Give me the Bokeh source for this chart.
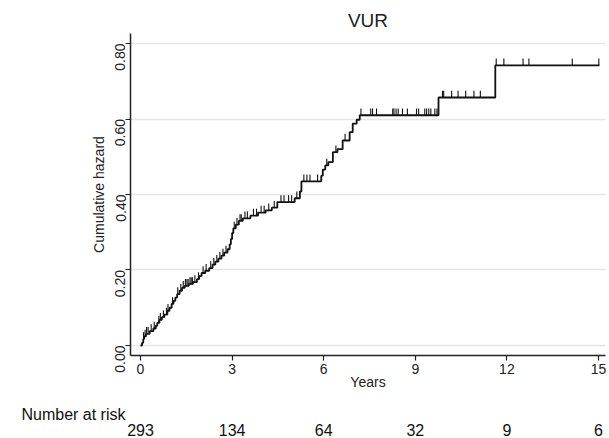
import numpy as np
from bokeh.plotting import figure
from bokeh.layouts import column
from bokeh.models import Range1d, FixedTicker, NumeralTickFormatter, LinearAxis
from bokeh.embed import file_html
from bokeh.resources import INLINE

# ---- data ----
event_years = [0.05, 0.09, 0.12, 0.18, 0.30, 0.42, 0.50, 0.55, 0.62, 0.70,
               0.78, 0.88, 0.95, 1.02, 1.08, 1.14, 1.20, 1.28, 1.36, 1.45,
               1.58, 1.72, 1.85, 1.92, 2.00, 2.12, 2.25, 2.36, 2.45, 2.55,
               2.65, 2.74, 2.85, 2.92, 2.96, 3.00, 3.04, 3.12, 3.22, 3.35,
               3.60, 3.85, 4.10, 4.30, 4.48, 5.05, 5.22, 5.27, 5.92, 5.97,
               6.05, 6.15, 6.30, 6.45, 6.62, 6.85, 6.95, 7.08, 7.18, 9.76,
               11.62]
cum_hazard = [0.007, 0.017, 0.024, 0.031, 0.038, 0.045, 0.052, 0.060, 0.068, 0.075,
              0.082, 0.092, 0.100, 0.110, 0.118, 0.127, 0.136, 0.145, 0.153, 0.158,
              0.163, 0.168, 0.176, 0.184, 0.192, 0.198, 0.205, 0.214, 0.222, 0.230,
              0.238, 0.246, 0.255, 0.268, 0.282, 0.298, 0.310, 0.320, 0.330, 0.337,
              0.344, 0.352, 0.358, 0.365, 0.380, 0.390, 0.408, 0.435, 0.450, 0.466,
              0.477, 0.486, 0.512, 0.520, 0.543, 0.565, 0.588, 0.598, 0.610, 0.657,
              0.742]
censor_years = [0.10, 0.15, 0.20, 0.25, 0.35, 0.45, 0.60, 0.65, 0.75, 0.85,
                0.90, 1.05, 1.22, 1.32, 1.40, 1.47, 1.52, 1.56, 1.62, 1.66,
                1.70, 1.78, 1.90, 2.05, 2.15, 2.30, 2.40, 2.50, 2.60, 2.70,
                2.80, 3.07, 3.16, 3.26, 3.30, 3.42, 3.50, 3.70, 3.80, 3.95,
                4.05, 4.20, 4.38, 4.60, 4.70, 4.85, 4.95, 5.12, 5.35, 5.45,
                5.55, 5.80, 6.10, 6.40, 6.70,
                7.22, 7.54, 7.60, 7.73, 8.26, 8.30, 8.37, 8.44, 8.58, 8.74,
                9.04, 9.11, 9.31, 9.37, 9.44, 9.51, 9.64, 9.71,
                9.89, 9.93, 10.19, 10.40, 10.65, 10.92, 11.13,
                11.65, 11.90, 12.53, 12.72, 14.14, 15.01]
last_followup = 15.03

risk_years = [0, 3, 6, 9, 12, 15]
risk_counts = [293, 134, 64, 32, 9, 6]
risk_title = "Number at risk"
x_ticks = [0, 3, 6, 9, 12, 15]
y_ticks = [0.0, 0.2, 0.4, 0.6, 0.8]

FONT = "Liberation Sans"
TXT = "#222222"
W = 609

# ---------------- main plot ----------------
p = figure(width=W, height=392, output_backend="svg", toolbar_location=None,
           x_range=Range1d(-0.3275, 15.229), y_range=Range1d(-0.0265, 0.8265),
           min_border_left=130, min_border_right=4, min_border_top=33,
           min_border_bottom=37, title="VUR")
p.outline_line_color = None
p.background_fill_color = "white"
p.border_fill_color = "white"

p.title.align = "center"
p.title.text_font = FONT
p.title.text_font_size = "19px"
p.title.text_font_style = "normal"
p.title.text_color = TXT
p.title.offset = 0
p.title.standoff = 5

p.xgrid.grid_line_color = None
p.ygrid.grid_line_color = "#e6e6e6"
p.ygrid.grid_line_width = 1.5
p.ygrid.ticker = FixedTicker(ticks=y_ticks)

for ax in (p.xaxis[0], p.yaxis[0]):
    ax.axis_line_color = TXT
    ax.axis_line_width = 1.5
    ax.major_tick_line_color = TXT
    ax.major_tick_line_width = 1.2
    ax.major_tick_out = 5
    ax.major_tick_in = 0
    ax.minor_tick_line_color = None
    ax.major_label_text_font = FONT
    ax.major_label_text_font_size = "14px"
    ax.major_label_text_color = TXT
    ax.axis_label_text_font = FONT
    ax.axis_label_text_font_size = "14px"
    ax.axis_label_text_font_style = "normal"
    ax.axis_label_text_color = TXT

p.xaxis.ticker = FixedTicker(ticks=x_ticks)
p.xaxis.axis_label = "Years"
p.xaxis.major_label_standoff = 3
p.xaxis.axis_label_standoff = -3

p.yaxis.ticker = FixedTicker(ticks=y_ticks)
p.yaxis.formatter = NumeralTickFormatter(format="0.00")
p.yaxis.major_label_orientation = np.pi / 2
p.yaxis.major_label_standoff = 5
p.yaxis.axis_label = "Cumulative hazard"
p.yaxis.axis_label_standoff = 1

step_x = [0.0] + event_years + [last_followup]
step_y = [0.0] + cum_hazard + [cum_hazard[-1]]
p.step(step_x, step_y, mode="after", line_color="#111111", line_width=1.8)

ev = np.array(event_years)
ch = np.array([0.0] + cum_hazard)
cy = np.array(censor_years)
ch_c = ch[np.searchsorted(ev, cy, side="right")]
tick_h = 0.018
p.segment(x0=cy, y0=ch_c, x1=cy, y1=ch_c + tick_h, line_color="#111111", line_width=1.1)

# ---------------- number-at-risk table ----------------
tbl_h = 438 - 392
t = figure(width=W, height=tbl_h, output_backend="svg", toolbar_location=None,
           x_range=p.x_range, y_range=Range1d(27, 0),
           min_border_left=130, min_border_right=4, min_border_top=0,
           min_border_bottom=0, x_axis_location=None, y_axis_location=None)
t.outline_line_color = None
t.grid.grid_line_color = None
t.border_fill_color = "white"
t.background_fill_color = "white"

row_title_y = 19
yax = LinearAxis(ticker=FixedTicker(ticks=[row_title_y]),
                 major_label_overrides={row_title_y: risk_title})
xax = LinearAxis(ticker=FixedTicker(ticks=risk_years),
                 major_label_overrides={yr: str(n) for yr, n in zip(risk_years, risk_counts)})
for ax in (yax, xax):
    ax.axis_line_color = None
    ax.major_tick_line_color = None
    ax.minor_tick_line_color = None
    ax.major_tick_out = 0
    ax.major_tick_in = 0
    ax.major_label_text_font = FONT
    ax.major_label_text_font_size = "16px"
    ax.major_label_text_color = "#111111"
yax.major_label_standoff = 5
xax.major_label_standoff = 0
t.add_layout(yax, "left")
t.add_layout(xax, "below")

layout = column(p, t, spacing=0)
open("out.html", "w").write(file_html(layout, INLINE))
